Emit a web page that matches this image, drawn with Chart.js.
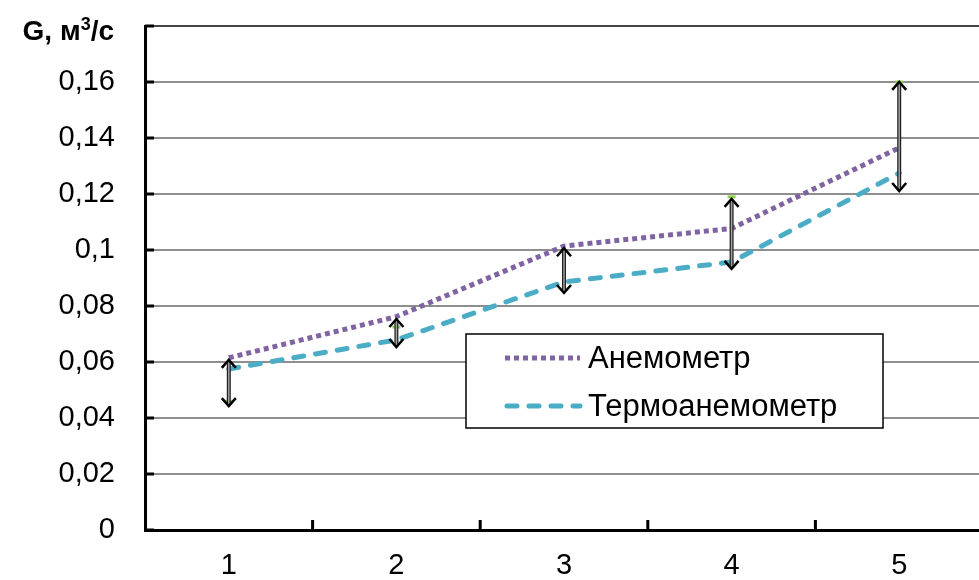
<!DOCTYPE html>
<html>
<head>
<meta charset="utf-8">
<script src="https://cdn.jsdelivr.net/npm/chart.js@4.4.1/dist/chart.umd.min.js"></script>
<style>
  html, body { margin: 0; padding: 0; background: #fff; overflow: hidden; }
  #wrap { width: 990px; height: 580px; }
</style>
</head>
<body>
<div id="wrap"><canvas id="chart"></canvas></div>
<script>
// values
const categories = ['1', '2', '3', '4', '5'];
const anemometer = [0.0615, 0.0762, 0.1014, 0.1077, 0.1365];
const thermo = [0.0575, 0.0679, 0.0886, 0.0957, 0.1275];
const arrowTop = [0.0611, 0.0757, 0.1010, 0.1186, 0.1604];
const arrowBottom = [0.0439, 0.0650, 0.0843, 0.0929, 0.1207];
const greenMarks = [0.0460, 0.0725, 0.0860, 0.1190, 0.1600];
const yMin = 0, yMax = 0.18, yStep = 0.02;
const yTitle = ['G, м', '3', '/с']; // base, superscript, rest
const seriesNames = ['Анемометр', 'Термоанемометр'];

const FONT = '"Liberation Sans", Arial, sans-serif';
const PURPLE = '#8064A2';
const TEAL = '#4BACC6';

const fmt = v => String(+v.toFixed(2)).replace('.', ',');

const extras = {
  id: 'extras',
  afterDatasetsDraw(chart) {
    const { ctx, scales: { x, y } } = chart;
    ctx.save();
    categories.forEach((c, i) => {
      const px = x.getPixelForValue(i);
      const top = y.getPixelForValue(arrowTop[i]);
      const bot = y.getPixelForValue(arrowBottom[i]);
      // shaft: dark outline with grey core
      ctx.beginPath();
      ctx.moveTo(px, top + 2);
      ctx.lineTo(px, bot - 2);
      ctx.strokeStyle = '#222';
      ctx.lineWidth = 4;
      ctx.stroke();
      ctx.strokeStyle = '#a0a0a0';
      ctx.lineWidth = 1.5;
      ctx.stroke();
      // heads
      ctx.strokeStyle = '#000';
      ctx.lineWidth = 2.5;
      ctx.beginPath();
      ctx.moveTo(px - 7, top + 9); ctx.lineTo(px, top + 1); ctx.lineTo(px + 7, top + 9);
      ctx.moveTo(px - 7, bot - 9); ctx.lineTo(px, bot - 1); ctx.lineTo(px + 7, bot - 9);
      ctx.stroke();
    });
    ctx.restore();
  },
  afterDraw(chart) {
    const { ctx, scales: { x, y }, chartArea } = chart;
    ctx.save();
    ctx.strokeStyle = '#000';
    ctx.lineWidth = 3;
    // inside ticks on the value axis
    ctx.beginPath();
    y.ticks.forEach((t, i) => {
      const py = y.getPixelForTick(i);
      ctx.moveTo(chartArea.left, py);
      ctx.lineTo(chartArea.left + 9, py);
    });
    // inside ticks between categories
    for (let i = 0; i < categories.length - 1; i++) {
      const px = (x.getPixelForValue(i) + x.getPixelForValue(i + 1)) / 2;
      ctx.moveTo(px, chartArea.bottom);
      ctx.lineTo(px, chartArea.bottom - 10);
    }
    ctx.stroke();

    // axis title in place of the top tick label
    ctx.fillStyle = '#000';
    ctx.textBaseline = 'alphabetic';
    ctx.textAlign = 'left';
    const big = 'bold 28px ' + FONT, small = 'bold 18px ' + FONT;
    ctx.font = big;
    const w0 = ctx.measureText(yTitle[0]).width, w2 = ctx.measureText(yTitle[2]).width;
    ctx.font = small;
    const w1 = ctx.measureText(yTitle[1]).width;
    let tx = 114 - (w0 + w1 + w2);
    const base = y.getPixelForValue(yMax) + 14;
    ctx.font = big; ctx.fillText(yTitle[0], tx, base); tx += w0;
    ctx.font = small; ctx.fillText(yTitle[1], tx, base - 10); tx += w1;
    ctx.font = big; ctx.fillText(yTitle[2], tx, base);

    // legend box
    const bx = 466, by = 334, bw = 417, bh = 94;
    ctx.fillStyle = '#fff';
    ctx.fillRect(bx, by, bw, bh);
    ctx.lineWidth = 1.5;
    ctx.strokeStyle = '#000';
    ctx.strokeRect(bx, by, bw, bh);
    const rows = [
      { y: 358, color: PURPLE, dash: [5, 4], cap: 'butt', x0: 505, x1: 580 },
      { y: 406, color: TEAL, dash: [10, 12], cap: 'round', x0: 507, x1: 580 }
    ];
    rows.forEach((r, i) => {
      ctx.beginPath();
      ctx.setLineDash(r.dash);
      ctx.lineCap = r.cap;
      ctx.lineWidth = 5;
      ctx.strokeStyle = r.color;
      ctx.moveTo(r.x0, r.y);
      ctx.lineTo(r.x1, r.y);
      ctx.stroke();
      ctx.setLineDash([]);
      ctx.fillStyle = '#000';
      ctx.font = '31px ' + FONT;
      ctx.textBaseline = 'middle';
      ctx.textAlign = 'left';
      ctx.fillText(seriesNames[i], 588, r.y + 1);
    });
    ctx.restore();
  }
};

new Chart(document.getElementById('chart'), {
  type: 'line',
  data: {
    labels: categories,
    datasets: [
      {
        label: seriesNames[0],
        data: anemometer,
        borderColor: PURPLE,
        borderWidth: 5,
        borderDash: [5, 4],
        borderCapStyle: 'butt',
        pointRadius: 0,
        tension: 0
      },
      {
        label: seriesNames[1],
        data: thermo,
        borderColor: TEAL,
        borderWidth: 5,
        borderDash: [10, 12],
        borderCapStyle: 'round',
        pointRadius: 0,
        tension: 0
      },
      {
        label: 'marks',
        data: greenMarks,
        showLine: false,
        pointStyle: 'line',
        pointRadius: 4,
        pointBorderWidth: 3,
        pointBorderColor: '#92D050',
        pointBackgroundColor: '#92D050'
      }
    ]
  },
  options: {
    responsive: true,
    maintainAspectRatio: false,
    animation: false,
    layout: { padding: { top: 26, right: 2, left: 0, bottom: 0 } },
    plugins: { legend: { display: false }, tooltip: { enabled: false } },
    scales: {
      x: {
        offset: true,
        grid: { drawOnChartArea: false, drawTicks: false },
        border: { display: true, color: '#000', width: 3 },
        ticks: { color: '#000', font: { family: FONT, size: 29 }, padding: 19, maxRotation: 0 },
        afterFit(scale) { scale.height = 50; }
      },
      y: {
        min: yMin,
        max: yMax,
        grid: {
          drawTicks: true,
          tickLength: 30,
          tickColor: 'rgba(0,0,0,0)',
          lineWidth: 2,
          color: ctx => ctx.index === 9 ? '#444' : '#8e8e8e'
        },
        border: { display: true, color: '#000', width: 3 },
        ticks: {
          stepSize: yStep,
          padding: 0,
          color: '#000',
          font: { family: FONT, size: 29 },
          callback: (v, i, ticks) => i === ticks.length - 1 ? '' : fmt(v)
        },
        afterFit(scale) { scale.width = 145; }
      }
    }
  },
  plugins: [extras]
});
</script>
</body>
</html>
